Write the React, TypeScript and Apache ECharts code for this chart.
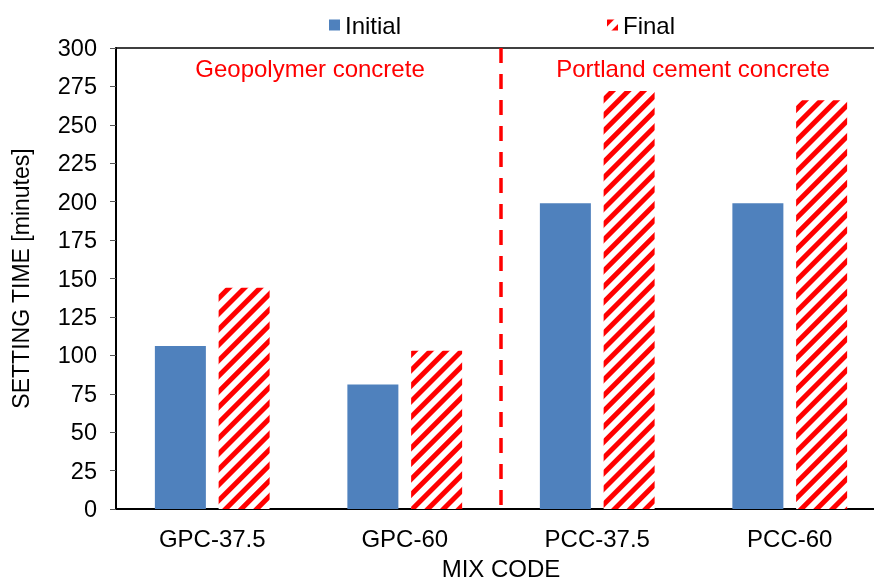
import React, { useEffect, useRef } from "react";
import * as echarts from "echarts";

const categories = ["GPC-37.5", "GPC-60", "PCC-37.5", "PCC-60"];
const initialValues = [106, 81, 199, 199];
const finalValues = [144, 103, 272, 266];
const dividerLine = [[2, 300], [2, 0]];
const groupLabels = ["Geopolymer concrete", "Portland cement concrete"];

const FONT = "'Liberation Sans', Arial, sans-serif";

export default function App() {
  const ref = useRef<HTMLDivElement>(null);
  useEffect(() => {
    document.body.style.margin = "0";
    document.body.style.overflow = "hidden";
    const chart = echarts.init(ref.current!, null, { renderer: "svg" });
    chart.setOption({
      animation: false,
      textStyle: { fontFamily: FONT },
      grid: { left: 116, top: 48, width: 770, height: 465 },
      legend: {
        data: ["Initial", "Final"],
        left: 324,
        top: 8,
        itemWidth: 11,
        itemHeight: 11,
        itemGap: 206,
        icon: "rect",
        textStyle: { fontSize: 24, color: "#000", fontFamily: FONT },
      },
      xAxis: [
        {
          type: "category",
          data: categories,
          axisLine: { lineStyle: { color: "#000", width: 2 } },
          axisTick: { length: 6, lineStyle: { color: "#000" } },
          axisLabel: { fontSize: 24, color: "#000", margin: 17, fontFamily: FONT },
          name: "MIX CODE",
          nameLocation: "middle",
          nameGap: 47,
          nameTextStyle: { fontSize: 24, color: "#000", fontFamily: FONT },
        },
        {
          type: "value",
          min: 0,
          max: 4,
          position: "top",
          axisLine: { show: true, onZero: false, lineStyle: { color: "#000", width: 1.5 } },
          axisTick: { show: false },
          axisLabel: { show: false },
          splitLine: { show: false },
        },
      ],
      yAxis: {
        type: "value",
        min: 0,
        max: 300,
        interval: 25,
        axisLine: { show: true, lineStyle: { color: "#000", width: 2 } },
        axisTick: { show: true, length: 6, lineStyle: { color: "#555" } },
        axisLabel: { fontSize: 23.5, color: "#000", margin: 19, fontFamily: FONT },
        splitLine: { show: false },
        name: "SETTING TIME [minutes]",
        nameLocation: "middle",
        nameGap: 84,
        nameTextStyle: { fontSize: 23, color: "#000", fontFamily: FONT },
      },
      graphic: [
        {
          type: "text",
          x: 310,
          y: 68,
          style: {
            text: groupLabels[0],
            fill: "#FF0000",
            font: `24px ${FONT}`,
            textAlign: "center",
            textVerticalAlign: "middle",
          },
        },
        {
          type: "text",
          x: 693,
          y: 68,
          style: {
            text: groupLabels[1],
            fill: "#FF0000",
            font: `24px ${FONT}`,
            textAlign: "center",
            textVerticalAlign: "middle",
          },
        },
      ],
      series: [
        {
          name: "Initial",
          type: "bar",
          data: initialValues,
          barWidth: 51,
          barGap: "25%",
          itemStyle: { color: "#4F81BD" },
        },
        {
          name: "Final",
          type: "bar",
          data: finalValues,
          barWidth: 51,
          itemStyle: {
            color: "#FFFFFF",
            decal: {
              symbol: "rect",
              symbolSize: 1,
              color: "#FF0000",
              dashArrayX: [1, 0],
              dashArrayY: [5, 5.5],
              rotation: -Math.PI / 4,
            },
          },
        },
        {
          name: "divider",
          type: "line",
          xAxisIndex: 1,
          data: dividerLine,
          symbol: "none",
          lineStyle: { color: "#FF0000", width: 3.5, type: [15, 11] },
          z: 5,
        },
      ],
    });
    return () => chart.dispose();
  }, []);
  return (
    <div
      ref={ref}
      style={{ position: "fixed", left: 0, top: 0, width: 890, height: 585 }}
    />
  );
}
